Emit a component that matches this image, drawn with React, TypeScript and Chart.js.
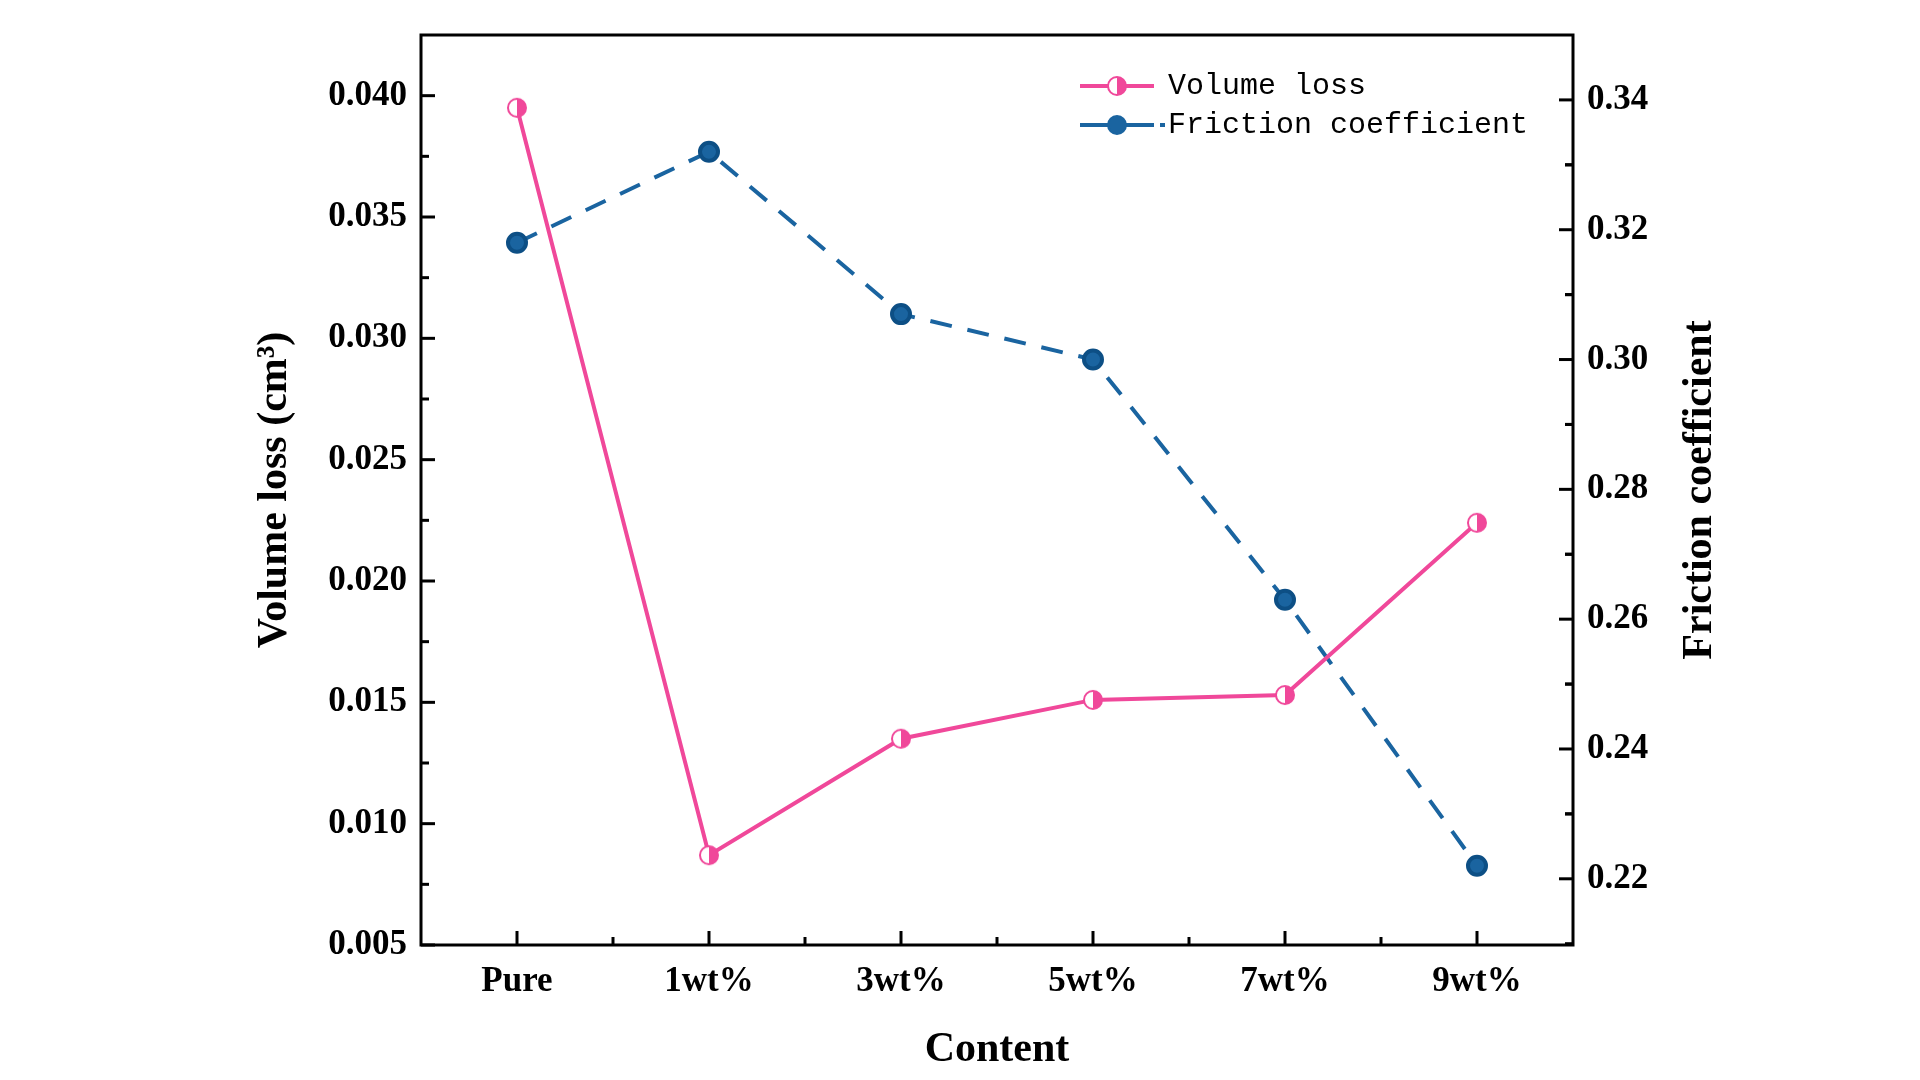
import React, { useEffect, useRef } from "react";
import { Chart, registerables } from "chart.js";
Chart.register(...registerables);

const categories = ["Pure", "1wt%", "3wt%", "5wt%", "7wt%", "9wt%"];
const volumeLoss = [0.0395, 0.0087, 0.0135, 0.0151, 0.0153, 0.0224];
const friction = [0.318, 0.332, 0.307, 0.300, 0.263, 0.222];
const leftTicks = [0.005, 0.01, 0.015, 0.02, 0.025, 0.03, 0.035, 0.04];
const rightTicks = [0.22, 0.24, 0.26, 0.28, 0.3, 0.32, 0.34];

const PINK = "#f0489a";
const BLUE = "#1a64a0";
const FONT = "'Liberation Serif', 'Times New Roman', serif";

function makePinkMarker() {
  const c = document.createElement("canvas");
  c.width = 22; c.height = 22;
  const ctx = c.getContext("2d")!;
  ctx.beginPath(); ctx.arc(11, 11, 9, 0, Math.PI * 2);
  ctx.fillStyle = "#fff"; ctx.fill();
  ctx.beginPath(); ctx.arc(11, 11, 9, -Math.PI / 2, Math.PI / 2);
  ctx.fillStyle = PINK; ctx.fill();
  ctx.beginPath(); ctx.arc(11, 11, 9, 0, Math.PI * 2);
  ctx.strokeStyle = PINK; ctx.lineWidth = 2; ctx.stroke();
  return c;
}

const framePlugin = {
  id: "frame",
  afterDraw(chart: any) {
    const ctx = chart.ctx;
    const a = chart.chartArea;
    ctx.save();
    ctx.strokeStyle = "#000";
    ctx.lineWidth = 3;
    ctx.strokeRect(a.left, a.top, a.right - a.left, a.bottom - a.top);
    const yl = chart.scales.y, yr = chart.scales.y1, x = chart.scales.x;
    const tick = (x1: number, y1: number, x2: number, y2: number) => {
      ctx.beginPath(); ctx.moveTo(x1, y1); ctx.lineTo(x2, y2); ctx.stroke();
    };
    leftTicks.forEach((v) => {
      const p = yl.getPixelForValue(v);
      tick(a.left, p, a.left + 14, p);
      const m = yl.getPixelForValue(v + 0.0025);
      if (m > a.top) tick(a.left, m, a.left + 8, m);
    });
    rightTicks.forEach((v) => {
      const p = yr.getPixelForValue(v);
      tick(a.right, p, a.right - 14, p);
      const m = yr.getPixelForValue(v + 0.01);
      if (m > a.top) tick(a.right, m, a.right - 8, m);
      const m2 = yr.getPixelForValue(v - 0.01);
      if (m2 < a.bottom) tick(a.right, m2, a.right - 8, m2);
    });
    categories.forEach((c, i) => {
      const p = x.getPixelForValue(i);
      tick(p, a.bottom, p, a.bottom - 14);
      if (i < categories.length - 1) {
        const q = (p + x.getPixelForValue(i + 1)) / 2;
        tick(q, a.bottom, q, a.bottom - 8);
      }
    });
    // right axis title, rotated bottom-to-top
    ctx.save();
    ctx.translate(1700, (a.top + a.bottom) / 2);
    ctx.rotate(-Math.PI / 2);
    ctx.font = `bold 42px ${FONT}`;
    ctx.fillStyle = "#000";
    ctx.textAlign = "center";
    ctx.textBaseline = "middle";
    ctx.fillText("Friction coefficient", 0, 0);
    ctx.restore();
    // legend
    const lx = 1080, tx = 1168;
    const rows = [
      { y: 86, color: PINK, label: "Volume loss" },
      { y: 125, color: BLUE, label: "Friction coefficient" },
    ];
    ctx.font = "30px 'Liberation Mono', monospace";
    ctx.textBaseline = "middle";
    rows.forEach((r, i) => {
      ctx.strokeStyle = r.color;
      ctx.lineWidth = 4;
      tick(lx, r.y, lx + 74, r.y);
      if (i === 1) {
        ctx.fillStyle = r.color;
        ctx.fillRect(lx + 80, r.y - 2, 5, 4);
      }
      ctx.beginPath();
      ctx.arc(lx + 37, r.y, 9, 0, Math.PI * 2);
      ctx.fillStyle = i === 0 ? "#fff" : r.color;
      ctx.fill();
      ctx.lineWidth = 2;
      ctx.stroke();
      if (i === 0) {
        ctx.beginPath();
        ctx.arc(lx + 37, r.y, 9, -Math.PI / 2, Math.PI / 2);
        ctx.fillStyle = r.color;
        ctx.fill();
      }
      ctx.fillStyle = "#000";
      ctx.fillText(r.label, tx, r.y);
    });
    ctx.restore();
  },
};

export default function App() {
  const ref = useRef<HTMLCanvasElement>(null);
  useEffect(() => {
    const marker = makePinkMarker();
    const chart = new Chart(ref.current!, {
      type: "line",
      data: {
        labels: categories,
        datasets: [
          {
            label: "Volume loss",
            data: volumeLoss,
            yAxisID: "y",
            borderColor: PINK,
            backgroundColor: PINK,
            pointStyle: marker,
            pointRadius: 10,
            borderWidth: 4,
          },
          {
            label: "Friction coefficient",
            data: friction,
            yAxisID: "y1",
            borderColor: BLUE,
            backgroundColor: BLUE,
            pointBorderColor: "#0d4f85",
            pointRadius: 9,
            borderWidth: 4,
            borderDash: [22, 16],
          },
        ],
      },
      options: {
        animation: false,
        responsive: false,
        layout: { padding: { left: 250, right: 200, top: 0, bottom: 5 } },
        plugins: { legend: { display: false }, tooltip: { enabled: false } },
        scales: {
          x: {
            offset: true,
            grid: { display: false, drawTicks: false },
            border: { display: false },
            ticks: { color: "#000", font: { family: FONT, size: 35, weight: "bold" }, padding: 16 },
            title: { display: true, text: "Content", color: "#000", font: { family: FONT, size: 42, weight: "bold" }, padding: 0 },
            afterFit: (s: any) => { s.height = 130; },
          },
          y: {
            position: "left",
            min: 0.005,
            max: 0.0425,
            afterBuildTicks: (s: any) => { s.ticks = leftTicks.map((v) => ({ value: v })); },
            grid: { display: false, drawTicks: false },
            border: { display: false },
            ticks: { color: "#000", font: { family: FONT, size: 35, weight: "bold" }, padding: 14, callback: (v: any) => Number(v).toFixed(3) },
            title: { display: true, text: "Volume loss (cm³)", color: "#000", font: { family: FONT, size: 42, weight: "bold" }, padding: 0 },
            afterFit: (s: any) => { s.width = 171; },
          },
          y1: {
            position: "right",
            min: 0.2098,
            max: 0.35,
            afterBuildTicks: (s: any) => { s.ticks = rightTicks.map((v) => ({ value: v })); },
            grid: { display: false, drawTicks: false },
            border: { display: false },
            ticks: { color: "#000", font: { family: FONT, size: 35, weight: "bold" }, padding: 14, callback: (v: any) => Number(v).toFixed(2) },
            title: { display: false },
            afterFit: (s: any) => { s.width = 147; },
          },
        },
      },
      plugins: [framePlugin],
    } as any);
    return () => chart.destroy();
  }, []);
  return (
    <div style={{ position: "absolute", left: 0, top: 0, width: 1920, height: 1080, background: "#fff" }}>
      <canvas ref={ref} width={1920} height={1080} />
    </div>
  );
}
